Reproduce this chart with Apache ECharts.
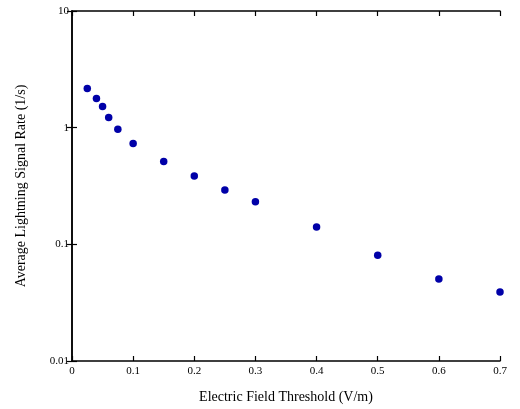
<!DOCTYPE html>
<html><head><meta charset="utf-8">
<script src="https://cdn.jsdelivr.net/npm/echarts@6/dist/echarts.min.js"></script>
<style>html,body{margin:0;padding:0;background:#fff}#c{width:520px;height:409px}</style>
</head><body><div id="c"></div>
<script>
const thresholds = [0.025, 0.04, 0.05, 0.06, 0.075, 0.1, 0.15, 0.2, 0.25, 0.3, 0.4, 0.5, 0.6, 0.7];
const rates = [2.17, 1.78, 1.52, 1.22, 0.97, 0.73, 0.514, 0.385, 0.292, 0.232, 0.141, 0.0805, 0.0504, 0.039];
const xTitle = 'Electric Field Threshold (V/m)';
const yTitle = 'Average Lightning Signal Rate (1/s)';

const font = 'Liberation Serif';
const chart = echarts.init(document.getElementById('c'), null, {renderer: 'canvas'});
const axLine = {show: true, lineStyle: {color: '#000', width: 1.5}};
const tick = {show: true, inside: true, length: 5, lineStyle: {color: '#000', width: 1.2}};
chart.setOption({
  animation: false,
  grid: {left: 72, right: 20, top: 11, bottom: 47, containLabel: false},
  xAxis: [{
    type: 'value', min: 0, max: 0.7, interval: 0.1, position: 'bottom',
    axisLine: axLine, axisTick: tick, splitLine: {show: false},
    axisLabel: {fontFamily: font, fontSize: 11, color: '#000', margin: 5,
      formatter: v => String(+v.toFixed(1))},
    name: xTitle, nameLocation: 'middle', nameGap: 29,
    nameTextStyle: {fontFamily: font, fontSize: 14, color: '#000'}
  }, {
    type: 'value', min: 0, max: 0.7, interval: 0.1, position: 'top',
    axisLine: axLine, axisTick: tick, axisLabel: {show: false}, splitLine: {show: false}
  }],
  yAxis: [{
    type: 'log', logBase: 10, min: 0.01, max: 10, position: 'left',
    axisLine: axLine, axisTick: tick, minorTick: {show: false}, splitLine: {show: false},
    axisLabel: {fontFamily: font, fontSize: 11, color: '#000', margin: 3,
      formatter: v => String(v)},
    name: yTitle, nameLocation: 'middle', nameGap: 44, nameRotate: 90,
    nameTextStyle: {fontFamily: font, fontSize: 14, color: '#000'}
  }, {
    type: 'log', logBase: 10, min: 0.01, max: 10, position: 'right',
    axisLine: axLine, axisTick: tick, axisLabel: {show: false}, splitLine: {show: false}
  }],
  series: [{
    type: 'scatter', xAxisIndex: 0, yAxisIndex: 0,
    symbol: 'circle', symbolSize: 7.5,
    itemStyle: {color: '#0000a8', opacity: 1},
    data: thresholds.map((x, i) => [x, rates[i]])
  }]
});
</script></body></html>
